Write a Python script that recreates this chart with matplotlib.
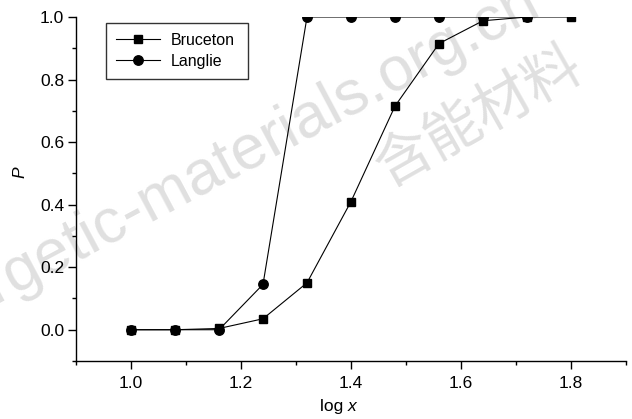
import matplotlib
matplotlib.use("Agg")
import matplotlib.pyplot as plt
from matplotlib.ticker import MultipleLocator, FormatStrFormatter

plt.rcParams['font.family'] = ['Liberation Sans', 'DejaVu Sans']

x_bruceton = [1.00, 1.08, 1.16, 1.24, 1.32, 1.40, 1.48, 1.56, 1.64, 1.72, 1.80]
p_bruceton = [0.0, 0.0, 0.004, 0.035, 0.15, 0.41, 0.715, 0.915, 0.988, 1.0, 1.0]
x_langlie = [1.00, 1.08, 1.16, 1.24, 1.32, 1.40, 1.48, 1.56, 1.64, 1.72]
p_langlie = [0.0, 0.0, 0.0, 0.145, 1.0, 1.0, 1.0, 1.0, 1.0, 1.0]
x_ticks = [1.0, 1.2, 1.4, 1.6, 1.8]
y_ticks = [0.0, 0.2, 0.4, 0.6, 0.8, 1.0]

W, H = 632, 419
fig = plt.figure(figsize=(W/100, H/100), dpi=100)
ax = fig.add_axes([76/W, 1-361/H, (626-76)/W, (361-17)/H])

tsize = 12.5

# watermark (behind the axes)
fig.text(216/W, 1-168/H, "energetic-materials.org.cn", fontsize=45, color='#e0e0e0',
         rotation=28, ha='center', va='center', zorder=-5,
         family=['Liberation Sans', 'DejaVu Sans'], rotation_mode='anchor')
fig.text(480/W, 1-117/H, "含能材料", fontsize=41, color='#e0e0e0',
         rotation=29.5, ha='center', va='center', zorder=-5, rotation_mode='anchor',
         family=['Noto Sans CJK SC', 'DejaVu Sans'])

ax.patch.set_alpha(0)
ax.plot(x_langlie, p_langlie, color='black', lw=0.8, marker='o', ms=6.8, label='Langlie', zorder=3)
ax.plot(x_bruceton, p_bruceton, color='black', lw=0.8, marker='s', ms=6.0, label='Bruceton', zorder=4)

ax.set_xlim(0.9, 1.9)
ax.set_ylim(-0.1, 1.0)
for s in ['top', 'right']:
    ax.spines[s].set_visible(False)
for s in ['left', 'bottom']:
    ax.spines[s].set_linewidth(1.0)
ax.xaxis.set_minor_locator(MultipleLocator(0.1))
ax.yaxis.set_minor_locator(MultipleLocator(0.1))
ax.set_xticks(x_ticks)
ax.set_yticks(y_ticks)
ax.tick_params(which='major', direction='out', length=5.5, width=1, labelsize=tsize)
ax.tick_params(axis='x', which='major', pad=5)
ax.tick_params(axis='y', which='major', pad=3)
ax.tick_params(which='minor', direction='out', length=2.8, width=1)
ax.xaxis.set_major_formatter(FormatStrFormatter('%.1f'))
ax.yaxis.set_major_formatter(FormatStrFormatter('%.1f'))

# axis titles: "log x" with italic x, italic P
fig.text(348/W, 1-399/H, "log ", fontsize=tsize, ha='right', va='top')
fig.text(348/W, 1-399/H, "x", fontsize=tsize, ha='left', va='top', style='italic')
fig.text(20/W, 1-172/H, "P", fontsize=tsize, ha='center', va='center', style='italic', rotation=90)

handles, labels = ax.get_legend_handles_labels()
leg = ax.legend(handles[::-1], labels[::-1], loc='upper left',
                bbox_to_anchor=((106-76)/550, 1-(77-17)/344, 142/550, (77-23)/344),
                mode='expand',
                frameon=True, fancybox=False, edgecolor='black', fontsize=11.5,
                handlelength=2.75, borderpad=0.6, labelspacing=0.4, handletextpad=0.7,
                borderaxespad=0)
leg.get_frame().set_linewidth(1.0)

fig.savefig('out.png', dpi=100)
